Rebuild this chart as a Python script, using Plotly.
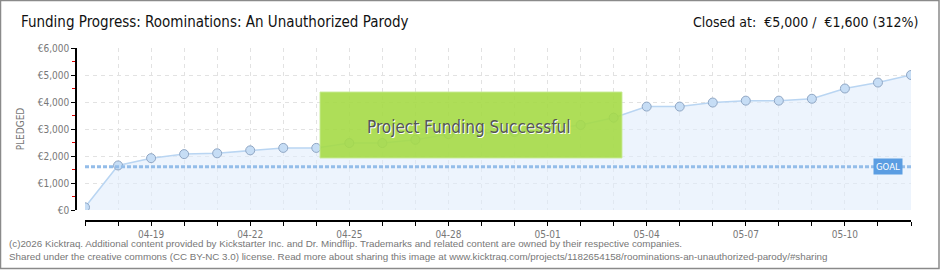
import plotly.graph_objects as go

# ---- data ----
dates = ["2013-04-17", "2013-04-18", "2013-04-19", "2013-04-20", "2013-04-21",
         "2013-04-22", "2013-04-23", "2013-04-24", "2013-04-25", "2013-04-26",
         "2013-04-27", "2013-04-28", "2013-04-29", "2013-04-30", "2013-05-01",
         "2013-05-02", "2013-05-03", "2013-05-04", "2013-05-05", "2013-05-06",
         "2013-05-07", "2013-05-08", "2013-05-09", "2013-05-10", "2013-05-11",
         "2013-05-12"]
pledged = [100, 1650, 1920, 2070, 2100, 2210, 2300, 2300, 2480, 2480,
           2600, 2810, 2850, 2890, 3000, 3150, 3420, 3830, 3830, 3980,
           4050, 4050, 4120, 4500, 4720, 5000]
goal = 1600
goal_dates = [dates[0], dates[-1]]
goal_values = [goal, goal]

title_text = "Funding Progress: Roominations: An Unauthorized Parody"
closed_text = "Closed at:  €5,000 /  €1,600 (312%)"
banner_text = "Project Funding Successful"
footer1 = ("(c)2026 Kicktraq. Additional content provided by Kickstarter Inc. and Dr. Mindflip. "
           "Trademarks and related content are owned by their respective companies.")
footer2 = ("Shared under the creative commons (CC BY-NC 3.0) license. Read more about sharing this image at "
           "www.kicktraq.com/projects/1182654158/roominations-an-unauthorized-parody/#sharing")

W, H = 940, 270
ML, MR, MT, MB = 76, 29, 48, 49
PW = W - ML - MR
PH = H - MT - MB


def px(x):
    return (x - ML) / PW


def py(y):
    return (H - MB - y) / PH


FONT = "DejaVu Sans Condensed, Liberation Sans Narrow, sans-serif"
FOOT_FONT = "Liberation Sans, Arial, sans-serif"

fig = go.Figure()

fig.add_trace(go.Scatter(
    x=dates, y=pledged, mode="lines+markers",
    line=dict(color="#b9d5f2", width=1.5),
    fill="tozeroy", fillcolor="rgba(225,237,252,0.6)",
    marker=dict(size=9, color="#c6ddf5", line=dict(color="#8fa6c4", width=1)),
    hoverinfo="x+y", showlegend=False,
))

fig.add_trace(go.Scatter(
    x=goal_dates, y=goal_values, mode="lines",
    line=dict(color="#94bde9", width=3, dash="4px,2px"),
    hoverinfo="skip", showlegend=False,
))

fig.update_layout(
    width=W, height=H,
    margin=dict(l=ML, r=MR, t=MT, b=MB, pad=0),
    paper_bgcolor="white", plot_bgcolor="white",
    font=dict(family=FONT, color="#777"),
    xaxis=dict(
        type="date",
        domain=[px(85), 1],
        range=[dates[0], dates[-1]],
        anchor="free", position=0,
        showline=True, linecolor="black", linewidth=1.5,
        ticks="outside", ticklen=4, tickcolor="black", tickwidth=1,
        tick0="2013-04-19", dtick=3 * 86400000,
        tickformat="%m-%d",
        tickfont=dict(size=10, color="#777", family=FONT),
        showgrid=True, gridcolor="#e2e2e2", griddash="4px,4px", gridwidth=1,
        minor=dict(dtick=86400000, tick0="2013-04-17", ticks="outside", ticklen=4,
                   tickcolor="black", showgrid=True, gridcolor="#e2e2e2",
                   griddash="4px,4px", gridwidth=1),
        zeroline=False, fixedrange=True,
    ),
    yaxis=dict(
        domain=[py(210), 1],
        range=[0, 6000],
        anchor="free", position=0,
        showline=True, linecolor="black", linewidth=1.5,
        ticks="outside", ticklen=4, tickcolor="black",
        dtick=1000, tickprefix="€", tickformat=",d",
        tickfont=dict(size=10, color="#777", family=FONT),
        showgrid=True, gridcolor="#e2e2e2", griddash="4px,4px", gridwidth=1,
        minor=dict(dtick=500, ticks="outside", ticklen=3, tickcolor="#e00000",
                   showgrid=False),
        title=dict(text="PLEDGED", font=dict(size=10, color="#777"), standoff=10),
        zeroline=False, fixedrange=True,
    ),
)

shapes = []
# outer frame
shapes.append(dict(type="rect", xref="paper", yref="paper",
                   x0=px(0.5), x1=px(939), y0=py(0.5), y1=py(268.5),
                   line=dict(color="#8a8a8a", width=1.5), fillcolor="rgba(0,0,0,0)",
                   layer="above"))
# success banner
shapes.append(dict(type="rect", xref="paper", yref="paper",
                   x0=px(320), x1=px(622), y0=py(92), y1=py(158),
                   line=dict(color="rgba(200,235,150,0.9)", width=1),
                   fillcolor="rgba(165,218,70,0.9)", layer="above"))
fig.update_layout(shapes=shapes)

annotations = [
    dict(text=title_text, xref="paper", yref="paper", x=px(19), y=py(22),
         xanchor="left", yanchor="middle", showarrow=False,
         font=dict(size=15, color="#111", family=FONT)),
    dict(text=closed_text, xref="paper", yref="paper", x=px(920), y=py(22),
         xanchor="right", yanchor="middle", showarrow=False,
         font=dict(size=14, color="#111", family=FONT)),
    dict(text=banner_text, xref="paper", yref="paper", x=px(469), y=py(127),
         xanchor="center", yanchor="middle", showarrow=False,
         font=dict(size=17, color="#555", family=FONT, shadow="1px 1px 0px white")),
    dict(text="GOAL", xref="paper", yref="y", x=px(888), y=goal,
         xanchor="center", yanchor="middle", showarrow=False,
         bgcolor="#5b9de2", borderpad=2,
         font=dict(size=9.5, color="white", family=FONT)),
    dict(text=footer1, xref="paper", yref="paper", x=px(7), y=py(243),
         xanchor="left", yanchor="middle", showarrow=False,
         font=dict(size=9.8, color="#777", family=FOOT_FONT)),
    dict(text=footer2, xref="paper", yref="paper", x=px(7), y=py(256),
         xanchor="left", yanchor="middle", showarrow=False,
         font=dict(size=9.8, color="#777", family=FOOT_FONT)),
]
fig.update_layout(annotations=annotations)

fig.write_html("out.html")
